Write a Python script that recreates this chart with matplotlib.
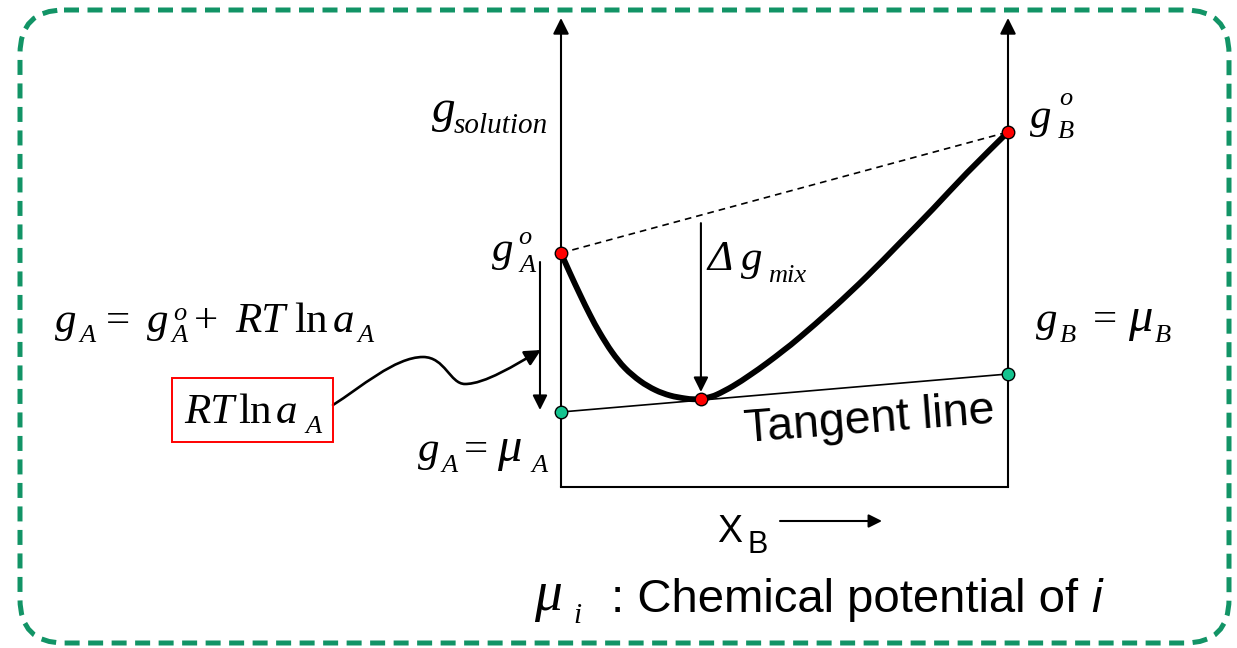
import matplotlib
matplotlib.use("Agg")
import matplotlib.pyplot as plt
from matplotlib.patches import FancyBboxPatch, Rectangle, FancyArrowPatch, PathPatch
from matplotlib.path import Path

# ---------------- data (X_B fraction, molar Gibbs energy in arbitrary units) ----------------
xb_curve = [0.0, 0.020, 0.043, 0.065, 0.087, 0.114, 0.143, 0.177, 0.211, 0.244, 0.277, 0.295,
            0.311, 0.329, 0.349, 0.385, 0.423, 0.461, 0.499, 0.535, 0.609, 0.685, 0.758,
            0.832, 0.908, 1.0]
g_curve = [2.34, 2.14, 1.92, 1.72, 1.54, 1.35, 1.19, 1.06, 0.97, 0.915, 0.886, 0.878,
           0.88, 0.895, 0.925, 1.01, 1.12, 1.24, 1.37, 1.50, 1.79, 2.11, 2.44,
           2.78, 3.14, 3.55]
g_pure = [2.34, 3.55]          # g_A^o , g_B^o
mu_values = [0.75, 1.13]       # mu_A , mu_B (tangent line ends)
x_tangent = 0.313
g_tangent = 0.88

W, H = 1237, 648
fig = plt.figure(figsize=(W / 100, H / 100), dpi=100)

# overlay axes in pixel units
ov = fig.add_axes([0, 0, 1, 1])
ov.set_xlim(0, W)
ov.set_ylim(H, 0)
ov.axis('off')

# main diagram axes
ax = fig.add_axes([561 / W, (H - 487) / H, 447 / W, 487 / H])
ax.set_xlim(0, 1)
ax.set_ylim(0, 4.87)
ax.axis('off')

GREEN = '#129466'
TEAL = '#14c38f'

# dashed rounded border
border = FancyBboxPatch((20, 10), 1209, 633, boxstyle='round,pad=0,rounding_size=44',
                        fill=False, edgecolor=GREEN, lw=3.6, linestyle=(0, (3.0, 1.7)))
ov.add_patch(border)

ak = dict(arrowstyle='-|>', color='k', lw=1.5, shrinkA=0, shrinkB=0, mutation_scale=24)

# axes of the diagram
for xv in (0, 1):
    ax.annotate('', xy=(xv, 4.69), xytext=(xv, 0), arrowprops=ak, annotation_clip=False)
ax.plot([0, 1], [0, 0], color='k', lw=1.5, clip_on=False, solid_capstyle='projecting')

# dashed chord between pure components
ax.plot([0, 1], g_pure, color='k', lw=1.2, ls=(0, (4, 3)), clip_on=False)

# tangent line
ax.plot([0, 1], mu_values, color='k', lw=1.2, clip_on=False)


# Gibbs curve drawn as a smooth (Catmull-Rom) path through the read points
def smooth_path(xs, ys):
    pts = list(zip(xs, ys))
    verts = [pts[0]]
    codes = [Path.MOVETO]
    n = len(pts)
    for i in range(n - 1):
        p0 = pts[i - 1] if i > 0 else pts[i]
        p1 = pts[i]
        p2 = pts[i + 1]
        p3 = pts[i + 2] if i + 2 < n else pts[i + 1]
        c1 = (p1[0] + (p2[0] - p0[0]) / 6, p1[1] + (p2[1] - p0[1]) / 6)
        c2 = (p2[0] - (p3[0] - p1[0]) / 6, p2[1] - (p3[1] - p1[1]) / 6)
        verts += [c1, c2, p2]
        codes += [Path.CURVE4] * 3
    return Path(verts, codes)


curve = PathPatch(smooth_path(xb_curve, g_curve), fill=False, edgecolor='k', lw=4.2,
                  capstyle='round', joinstyle='round', clip_on=False)
ax.add_patch(curve)

# delta g_mix arrow
g_chord = g_pure[0] + (g_pure[1] - g_pure[0]) * x_tangent
ax.annotate('', xy=(x_tangent, g_tangent + 0.07), xytext=(x_tangent, g_chord - 0.08),
            arrowprops=dict(ak, mutation_scale=22), annotation_clip=False)

# RT ln a_A arrow on the left
ax.annotate('', xy=(-0.047, mu_values[0] + 0.02), xytext=(-0.047, g_pure[0] - 0.09),
            arrowprops=dict(ak, mutation_scale=22), annotation_clip=False)

# markers
ms = 9
ax.plot([0, 1], g_pure, 'o', ms=ms, mfc='red', mec='k', mew=1.0, clip_on=False, zorder=5)
ax.plot([x_tangent], [g_tangent], 'o', ms=ms, mfc='red', mec='k', mew=1.0, clip_on=False, zorder=5)
ax.plot([0, 1], mu_values, 'o', ms=ms, mfc=TEAL, mec='k', mew=1.0, clip_on=False, zorder=5)

# wavy arrow from box
verts = [(333, 405), (360, 388), (395, 357), (423, 357),
         (445, 357), (450, 384), (465, 384),
         (485, 384), (515, 365), (541, 350)]
codes = [Path.MOVETO] + [Path.CURVE4] * 9
wave = FancyArrowPatch(path=Path(verts, codes), arrowstyle='-|>', mutation_scale=24,
                       color='k', lw=1.9)
ov.add_patch(wave)

# red box
ov.add_patch(Rectangle((172, 378), 161, 64, fill=False, edgecolor='red', lw=1.4))


def put(x, y, s, size, style='italic', family='Liberation Serif', ha='center'):
    return ov.text(x, y, s, fontsize=size, fontstyle=style, family=family,
                   ha=ha, va='baseline')


M, S = 31, 19
# g_solution
put(444, 122, 'g', 34)
put(501, 133, 'solution', 21)
# g_A^o
put(503, 261, 'g', 31)
put(525, 244, 'o', 19)
put(528, 272, 'A', 19)
# g_A = g_A^o + RT ln a_A
put(66, 332, 'g', M); put(88, 342, 'A', S)
put(118, 332, '=', M, 'normal')
put(158, 332, 'g', M); put(180, 320, 'o', S); put(180, 342, 'A', S)
put(206, 332, '+', M, 'normal')
put(260, 332, 'RT', M)
put(311, 332, 'ln', M, 'normal')
put(343, 332, 'a', M); put(366, 342, 'A', S)
# boxed RT ln a_A
put(209, 423, 'RT', M)
put(255, 423, 'ln', M, 'normal')
put(286, 423, 'a', M); put(314, 433, 'A', S)
# g_A = mu_A
put(429, 461, 'g', M); put(449, 472, 'A', S)
put(476, 461, '=', M, 'normal')
put(509, 461, 'μ', 35); put(539, 472, 'A', S)
# delta g_mix
put(720, 270, 'Δ', M)
put(752, 270, 'g', M)
put(787, 282, 'mix', S)
# g_B^o
put(1041, 128, 'g', M); put(1066, 105, 'o', S); put(1066, 138, 'B', S)
# g_B = mu_B
put(1047, 331, 'g', M); put(1068, 342, 'B', S)
put(1105, 331, '=', M, 'normal')
put(1140, 331, 'μ', 35); put(1163, 342, 'B', S)

# Tangent line label
ov.text(745, 442, 'Tangent line', fontsize=33.5, family='Liberation Sans', rotation=4.4,
        rotation_mode='anchor', ha='left', va='baseline')

# X_B label with arrow
ov.text(717, 542, 'X', fontsize=27, family='Liberation Sans', ha='left', va='baseline')
ov.text(748, 553, 'B', fontsize=22, family='Liberation Sans', ha='left', va='baseline')
ov.annotate('', xy=(882, 521), xytext=(780, 521), arrowprops=dict(ak, mutation_scale=20))

# bottom legend line
put(548, 610, 'μ', 40)
put(577, 623, 'i', 21)
t1 = ov.text(611, 612, ': Chemical potential of ', fontsize=34, family='Liberation Sans',
             ha='left', va='baseline')
fig.canvas.draw()
bb = t1.get_window_extent()
xe = ov.transData.inverted().transform((bb.x1, bb.y0))[0]
ov.text(xe, 612, 'i', fontsize=34, family='Liberation Sans', style='italic',
        ha='left', va='baseline')

fig.savefig('out.png', dpi=100)
